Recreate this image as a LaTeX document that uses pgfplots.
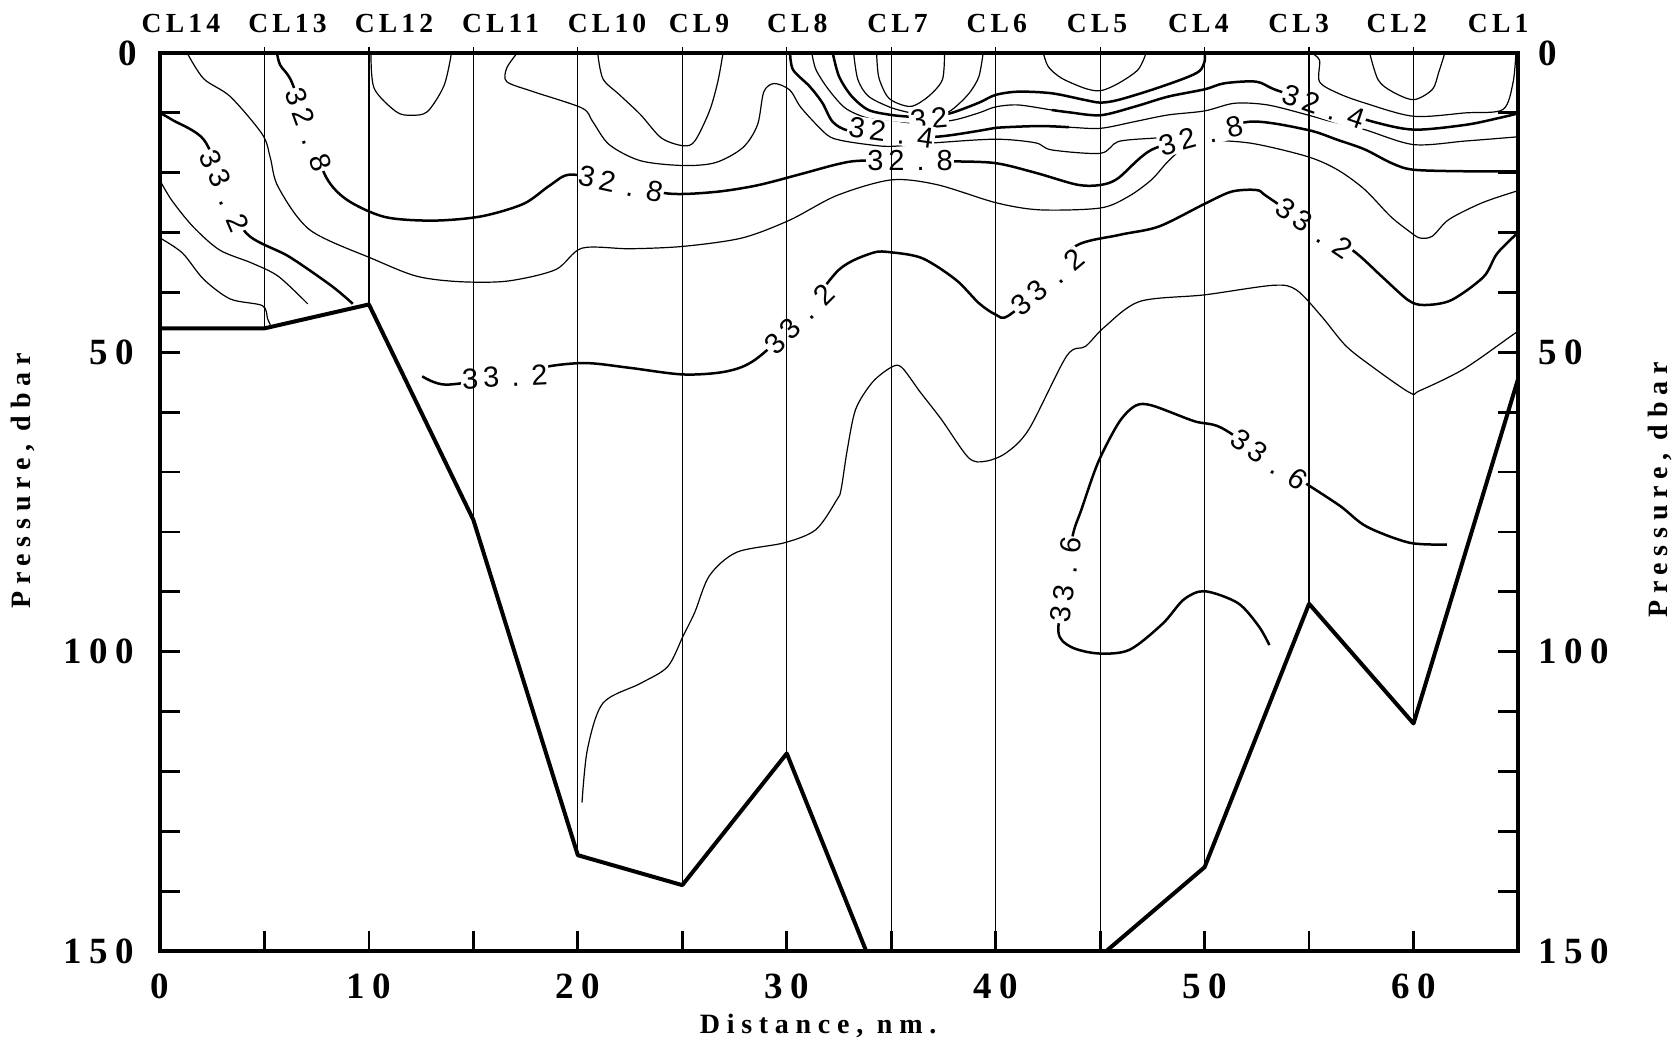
\documentclass[border=0pt]{standalone}
\usepackage{fontspec}
\setmainfont{Liberation Serif}
\newfontfamily\tickfont{Liberation Serif}[LetterSpace=20]
\newfontfamily\descfont{Liberation Serif}[LetterSpace=24]
\newfontfamily\stfont{Liberation Serif}[LetterSpace=15]
\newfontfamily\cfont{Liberation Sans}
\usepackage{pgfplots}
\pgfplotsset{compat=1.18}
\newcommand\tf{\tickfont\bfseries\fontsize{18.5}{20}\selectfont}
\newcommand\df{\descfont\bfseries\fontsize{14}{16}\selectfont}
\newcommand\stf{\stfont\bfseries\fontsize{13.8}{15}\selectfont}
\newcommand\cf{\cfont\fontsize{14.5}{16}\selectfont}
\newcommand\lv[3]{#1\hspace{2.5pt}#2\hspace{6pt}.\hspace{6pt}#3}
\newcommand\clab[4]{\node[fill=white,inner sep=0.6pt,rotate=#3,font=\cf] at (axis cs:#1,#2) {#4};}
\pgfplotsset{
  thk/.style={line width=1.25pt, black, smooth, tension=0.5},
  thn/.style={line width=0.6pt, black, smooth, tension=0.5},
  stn/.style={line width=0.6pt, black, on layer=axis foreground},
}
\begin{document}
\begin{tikzpicture}
\begin{axis}[
  scale only axis, width=679pt, height=449pt,
  xmin=0, xmax=65, ymin=0, ymax=150, y dir=reverse,
  clip=false, set layers,
  axis line style={line width=1.8pt},
  xtick={0,10,...,60}, minor xtick={5,15,...,55},
  xticklabels={0,10,20,30,40,50,60},
  ytick={0,50,100,150}, minor ytick={10,20,30,40,60,70,80,90,110,120,130,140},
  yticklabels={0\kern-1.5pt,50,100,150},
  xtick pos=left,
  tick align=inside,
  major tick length=10pt, minor tick length=10pt,
  tick style={line width=1.4pt, black},
  tick label style={font=\tf},
  xticklabel style={anchor=center, inner sep=0pt, yshift=-17.5pt},
  yticklabel style={anchor=east, inner sep=0pt, xshift=-13pt},
]
% ---------- contours ----------
\addplot[thn] coordinates {(10.1,0) (10.25,5.9) (11.3,9.8) (12.0,10.4) (12.8,9.8) (13.6,5.4) (13.95,0)};
\addplot[thn] coordinates {(20.95,0) (21.2,4.3) (22.0,7.0) (23.0,10.3) (24.0,14.2) (25.05,15.5) (25.6,14.7) (26.3,9.7) (26.7,4.8) (26.95,0)};
\addplot[thn] coordinates {(1.3,0) (2.09,4.3) (3.37,7.3) (4.90,13.6) (5.28,17.5) (5.66,22.4) (7.19,29.6) (10.26,34.5) (12.30,37.3) (14.34,38.2) (16.63,38.1) (18.93,36.2) (20.2,32.6) (22.5,32.7) (25.05,32.3) (27.86,30.9) (30.15,27.9) (32.4,23.8) (35,21.2) (37.2,22.0) (40,25.0) (42.1,26.2) (45,25.9) (46.34,24.0) (47.45,21.2) (48.25,18.1) (49.04,15.75) (50.0,14.64) (52.23,15.08) (54.93,17.31) (56.37,19.53) (57.66,22.8) (58.9,27.3) (59.8,29.8) (60.3,30.9) (60.9,30.6) (61.7,27.8) (63.3,25.0) (65,23.0)};
\addplot[thk] coordinates {(5.6,0) (5.75,2.0) (6.30,4.8) (7.1,12.8) (7.96,20.8) (8.98,24.6) (10.77,27.4) (13.06,28.0) (15.36,27.3) (17.40,25.2) (18.67,22.1) (19.69,20.3) (22.05,21.9) (24.4,23.5) (26.6,23.2) (28.6,22.1) (30.7,20.2) (32.4,18.6) (33.5,18.0) (36,18.0) (38.0,18.1) (40,18.4) (41.9,20.0) (43.9,22.0) (45.02,22.04) (45.86,20.92) (47.45,16.19) (49.84,13.8) (52.23,11.46) (54.93,12.85) (56.37,14.52) (57.66,16.1) (58.95,18.4) (60,19.5) (62.5,19.76) (65,19.76)};
\addplot[thn] coordinates {(17.1,0) (16.6,2.5) (16.6,4.8) (17.9,6.5) (20.2,9.2) (20.7,11.4) (21.5,15.3) (23.0,18.0) (25.05,18.8) (26.6,18.3) (27.9,15.8) (28.6,12.0) (28.9,6.5) (29.4,5.1) (30.15,6.2) (30.7,9.2) (31.9,13.6) (32.6,14.6) (33.9,15.3) (35,15.6) (37.1,15.0) (40,14.4) (41.9,15.0) (42.68,16.19) (45.02,16.75) (45.86,14.8) (47.45,14.25) (48.6,14.1)};
\addplot[thk] coordinates {(30.16,0) (30.3,2.8) (31.1,5.6) (31.7,8.3) (32.2,11.5) (33,13.0) (35,13.6) (37.1,14.0) (39.2,13.0) (40,12.5) (42.1,12.2) (43.5,12.4)};
\addplot[thn] coordinates {(42.1,12.2) (43.5,12.4) (45.02,12.58) (46.66,11.46) (48.25,10.35) (50.0,9.68) (51.43,8.4) (53.02,8.68) (54.93,10.35) (56.0,11.4) (57.66,12.8) (60,15.3) (62.5,14.7) (65,14.0)};
\addplot[thn] coordinates {(31.2,0) (31.4,2.8) (32.0,6.1) (32.8,9.2) (33.8,10.8) (35,11.5) (36.5,11.8) (38,11.2) (39.2,10.0) (40,9.0) (41.08,8.68) (42.68,9.52) (43.5,9.9)};
\addplot[thk] coordinates {(42.68,9.52) (43.5,9.9) (45.02,10.4) (46.66,8.96) (48.25,7.29) (50.0,6.07) (50.95,5.06) (52.47,4.79) (53.42,6.18) (55.7,8.8) (57.98,11.4) (60,12.8) (62.5,12.0) (64.1,10.85) (65,10.1)};
\addplot[thk] coordinates {(32.2,0) (32.5,3.9) (33.1,7.2) (33.9,9.5) (34.9,10.3) (35.7,10.6) (36.8,10.8) (37.9,10.0) (39.2,8.3) (40,7.0) (41.08,6.46) (42.68,6.73) (44.27,7.85) (45.02,8.29) (45.86,7.85) (47.45,6.18) (49.04,4.23) (49.76,3.0) (50.0,1.4) (50.0,0)};
\addplot[thn] coordinates {(33.2,0) (33.4,4.4) (33.9,7.2) (34.9,9.0) (35.8,9.9) (36.8,10.4) (37.7,9.9) (38.3,8.3) (38.8,6.4) (39.2,3.9) (39.4,0)};
\addplot[thn] coordinates {(34.3,0) (34.4,4.0) (34.8,7.2) (35.3,8.4) (36.0,8.9) (36.8,7.2) (37.45,4.45) (37.55,0)};
\addplot[thn] coordinates {(42.28,0) (42.52,2.3) (43.15,4.2) (44.27,5.9) (45.02,6.3) (45.86,5.1) (46.81,2.8) (47.2,0)};
\addplot[thn] coordinates {(55.1,0) (55.5,1.2) (55.5,4.8) (56.37,6.7) (57.66,8.35) (60,10.57) (62.5,10.0) (64.27,9.46) (64.76,5.0) (64.9,0)};
\addplot[thn] coordinates {(57.9,0) (58.3,4.45) (58.95,6.4) (60.0,7.8) (60.9,6.1) (61.2,3.3) (61.5,0)};
\addplot[thk] coordinates {(12.55,54.0) (13.7,55.4) (16.5,54.0) (18.67,52.3) (20.46,51.8) (22.5,52.6) (25.05,53.7) (27.1,53.2) (28.5,51.2) (30.6,44.5) (32.5,36.2) (34.1,33.4) (35,33.3) (36.5,34.3) (38.1,37.9) (39.2,41.8) (40,43.7) (40.6,43.9) (42.5,38.3) (43.8,32.3) (45.9,30.4) (47.8,29.0) (50.0,25.2) (51.3,23.15) (52.5,22.9) (53.0,24.0) (55.25,29.3) (57.1,33.0) (58.5,37.4) (59.75,41.3) (60.5,42.1) (61.8,41.3) (63.35,37.4) (64.0,33.5) (65,30.0)};
\addplot[thn] coordinates {(20.2,125.2) (20.46,116.3) (21.2,108.6) (23.0,105.3) (24.3,102.5) (25.05,97.3) (25.6,93.4) (26.3,87.3) (27.6,83.4) (29.9,81.8) (31.4,79.6) (32.4,74.6) (32.6,72.9) (32.9,66.2) (33.3,59.5) (34.1,55.0) (35.0,52.5) (35.5,52.5) (36.4,56.7) (37.4,61.2) (38.7,67.6) (39.5,68.2) (40.5,66.8) (41.6,62.8) (43.4,50.6) (44.3,49.0) (45.2,45.8) (46.9,41.5) (50.0,40.4) (53.3,38.8) (54.4,39.6) (55.6,44.0) (56.7,48.7) (57.75,51.7) (59.8,56.7) (60.3,56.4) (62.4,52.8) (64.7,47.2) (65,46.5)};
\addplot[thk] coordinates {(61.6,82.1) (59.8,81.8) (57.75,79.1) (56.5,75.7) (54.8,71.8) (53.1,67.9) (50.8,62.6) (49.5,61.5) (47.5,58.9) (46.7,58.9) (45.9,61.7) (44.9,68.4) (44.1,76.3) (43.7,80.4) (43.35,88) (43.0,96.6) (43.6,99.2) (44.9,100.3) (46.4,99.7) (48.0,95.3) (49.0,91.3) (50.0,89.9) (51.6,91.9) (52.6,95.8) (53.1,98.9)};
\addplot[thk] coordinates {(0,10.0) (0.6,11.2) (2.09,14.45) (3.1,22.3) (4.13,30.1) (6.17,34.0) (8.21,38.9) (9.23,41.9)};
\addplot[thn] coordinates {(0,21.3) (0.56,24.6) (1.58,29.0) (2.85,32.9) (4.4,35.1) (5.66,37.3) (7.07,41.9)};
\addplot[thn] coordinates {(0,30.9) (1.07,33.4) (2.09,37.8) (3.37,41.1) (4.9,42.2) (5.15,44.4) (5.28,45.4)};
% ---------- contour labels ----------
\clab{3.1}{23}{-67}{\lv{3}{3}{2}}
\clab{7.1}{12.8}{-70}{\lv{3}{2}{8}}
\clab{22.05}{21.9}{-12}{\lv{3}{2}{8}}
\clab{16.5}{54.1}{3}{\lv{3}{3}{2}}
\clab{30.6}{44.5}{45}{\lv{3}{3}{2}}
\clab{36.8}{11.0}{5}{3\hspace{2.5pt}2}
\clab{35.0}{13.3}{-8}{\lv{3}{2}{4}}
\clab{35.9}{18.0}{0}{\lv{3}{2}{8}}
\clab{42.5}{38.3}{40}{\lv{3}{3}{2}}
\clab{49.84}{13.8}{15}{\lv{3}{2}{8}}
\clab{55.7}{9.0}{-19}{\lv{3}{2}{4}}
\clab{55.25}{29.3}{-34}{\lv{3}{3}{2}}
\clab{53.1}{67.9}{-35}{\lv{3}{3}{6}}
\clab{43.35}{88}{82}{\lv{3}{3}{6}}
% ---------- station lines ----------
\addplot[stn] coordinates {(5,-1) (5,46)};
\addplot[stn] coordinates {(10,-1) (10,42)};
\addplot[stn] coordinates {(15,-1) (15,78)};
\addplot[stn] coordinates {(20,-1) (20,134)};
\addplot[stn] coordinates {(25,-1) (25,139)};
\addplot[stn] coordinates {(30,-1) (30,117)};
\addplot[stn] coordinates {(35,-1) (35,150)};
\addplot[stn] coordinates {(40,-1) (40,150)};
\addplot[stn] coordinates {(45,-1) (45,150)};
\addplot[stn] coordinates {(50,-1) (50,136)};
\addplot[stn] coordinates {(55,-1) (55,92)};
\addplot[stn] coordinates {(60,-1) (60,112)};
% ---------- bathymetry ----------
\addplot[line width=2pt, black, line join=round, on layer=axis foreground] coordinates {(0,46) (5,46) (10,42) (15,78) (20,134) (25,139) (30,117) (33.8,150)};
\addplot[line width=2pt, black, line join=round, on layer=axis foreground] coordinates {(45.3,150) (50,136) (55,92) (60,112) (65,54.5)};
% ---------- station names ----------
\node[font=\stf] at (axis cs:1.0,-5.0) {CL14};
\node[font=\stf] at (axis cs:6.1,-5.0) {CL13};
\node[font=\stf] at (axis cs:11.2,-5.0) {CL12};
\node[font=\stf] at (axis cs:16.3,-5.0) {CL11};
\node[font=\stf] at (axis cs:21.4,-5.0) {CL10};
\node[font=\stf] at (axis cs:25.8,-5.0) {CL9};
\node[font=\stf] at (axis cs:30.5,-5.0) {CL8};
\node[font=\stf] at (axis cs:35.3,-5.0) {CL7};
\node[font=\stf] at (axis cs:40.05,-5.0) {CL6};
\node[font=\stf] at (axis cs:44.85,-5.0) {CL5};
\node[font=\stf] at (axis cs:49.7,-5.0) {CL4};
\node[font=\stf] at (axis cs:54.5,-5.0) {CL3};
\node[font=\stf] at (axis cs:59.2,-5.0) {CL2};
\node[font=\stf] at (axis cs:64.05,-5.0) {CL1};
% ---------- right tick labels ----------
\node[font=\tf, anchor=west, inner sep=0pt] at (axis cs:65.96,0) {0};
\node[font=\tf, anchor=west, inner sep=0pt] at (axis cs:65.96,50) {50};
\node[font=\tf, anchor=west, inner sep=0pt] at (axis cs:65.96,100) {100};
\node[font=\tf, anchor=west, inner sep=0pt] at (axis cs:65.96,150) {150};
% ---------- axis titles ----------
\node[font=\df, rotate=90] at (axis cs:-6.58,71.5) {Pressure, dbar};
\node[font=\df, rotate=90] at (axis cs:71.8,73) {Pressure, dbar};
\node[font=\df] at (axis cs:31.5,162.5) {Distance, nm.};
\end{axis}
\pgfresetboundingbox
\path[use as bounding box] (-80pt,-46pt) rectangle (758pt,475.5pt);
\end{tikzpicture}
\end{document}
